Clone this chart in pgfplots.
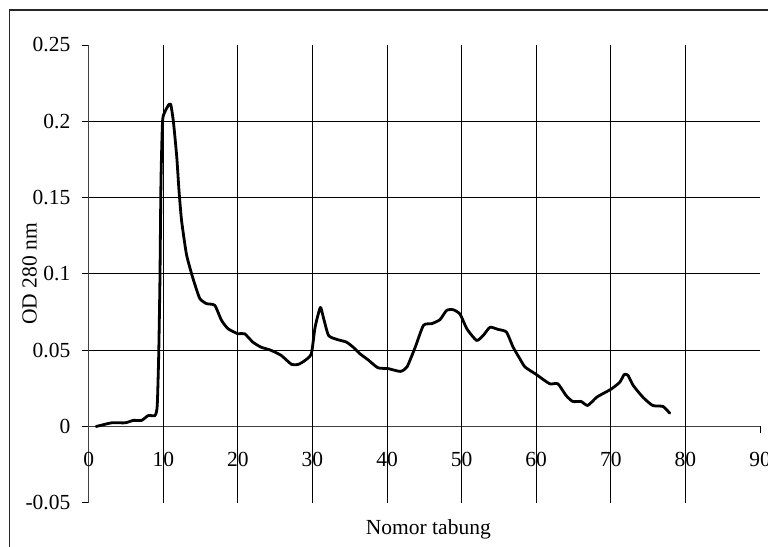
\documentclass[border=0pt]{standalone}
\usepackage{fontspec}
\setmainfont{Liberation Serif}
\usepackage{pgfplots}
\pgfplotsset{compat=1.18}
\begin{document}
\fontsize{21.5bp}{26bp}\selectfont
\begin{tikzpicture}[x=1bp,y=1bp]
\path[use as bounding box] (0,0) rectangle (768,547);
\draw[line width=1.5bp, black!85] (9.5,0) -- (9.5,537) -- (768,537);
\begin{axis}[
  at={(88.7bp,44.2bp)}, anchor=south west,
  scale only axis, width=671.3bp, height=457.8bp,
  xmin=0, xmax=90, ymin=-0.05, ymax=0.25,
  axis x line*=middle, axis y line*=left,
  hide obscured x ticks=false, hide obscured y ticks=false,
  xtick={0,10,...,90}, ytick={-0.05,0,0.05,0.1,0.15,0.2,0.25},
  yticklabels={-0.05,0,0.05,0.1,0.15,0.2,0.25},
  tick align=outside, major tick length=7bp,
  tick style={black, line width=0.8bp},
  axis line style={black!75, line width=0.9bp},
  every tick label/.append style={font=\fontsize{21.5bp}{26bp}\selectfont},
  /pgf/number format/assume math mode=true,
  xticklabel style={anchor=center, yshift=-26bp},
  yticklabel style={anchor=east, xshift=-4bp},
  xlabel={Nomor tabung}, ylabel={OD 280 nm},
  label style={font=\fontsize{21.5bp}{26bp}\selectfont},
  xlabel style={at={(axis description cs:0.5,0)}, anchor=center, yshift=-27bp, xshift=4bp},
  ylabel style={at={(axis description cs:0,0.5)}, anchor=center, yshift=59bp},
  clip=false,
]
\pgfplotsinvokeforeach{10,20,30,40,50,60,70,80}{
  \draw[black, line width=0.8bp] (axis cs:#1,-0.05) -- (axis cs:#1,0.25);
}
\pgfplotsinvokeforeach{0.05,0.1,0.15,0.2}{
  \draw[black, line width=0.8bp] (axis cs:0,#1) -- (axis cs:90,#1);
}
\addplot[black, line width=2.8bp, line join=round, line cap=round, smooth, tension=0.35] coordinates {
(1.0,0) (3.08,0.0024) (4.88,0.0024) (5.98,0.004) (7.09,0.004) (7.99,0.0072)
(8.89,0.0072) (9.19,0.0138) (9.39,0.048) (9.55,0.096) (9.69,0.161) (9.90,0.2)
(10.2,0.206) (10.7,0.2106) (11.0,0.211) (11.35,0.2) (11.8,0.177) (12.1,0.155)
(12.45,0.135) (13.1,0.113) (13.8,0.100) (14.2,0.0936) (14.9,0.0838) (15.8,0.0805)
(16.9,0.0794) (17.8,0.0696) (18.7,0.064) (20.0,0.0608) (20.9,0.0608) (22.0,0.0553)
(23.1,0.052) (24.4,0.050) (25.8,0.0466) (27.2,0.0407) (28.1,0.0407) (29.0,0.0433)
(29.85,0.0477) (30.35,0.065) (31.05,0.078) (31.45,0.0717) (32.15,0.0597) (33.25,0.0571)
(34.55,0.0553) (35.45,0.052) (36.35,0.0477) (37.45,0.0437) (38.77,0.0385) (40.17,0.0379)
(41.77,0.0361) (42.67,0.039) (43.78,0.052) (44.88,0.0663) (45.99,0.0674) (47.09,0.07)
(47.99,0.0761) (48.89,0.0765) (49.80,0.0735) (50.70,0.064) (52.0,0.0564) (52.9,0.0597)
(53.8,0.065) (54.9,0.0636) (56.0,0.0619) (56.9,0.052) (57.8,0.0444) (58.5,0.039)
(60.0,0.0341) (61.8,0.028) (62.9,0.028) (64.0,0.0203) (64.9,0.0164) (66.0,0.0164)
(66.9,0.0138) (68.1,0.0192) (68.9,0.0214) (70.1,0.0247) (71.2,0.029) (71.8,0.0341)
(72.3,0.0335) (73.0,0.0269) (74.3,0.0192) (75.6,0.0138) (77.0,0.0131) (77.9,0.0087)
};
\end{axis}
\end{tikzpicture}
\end{document}
